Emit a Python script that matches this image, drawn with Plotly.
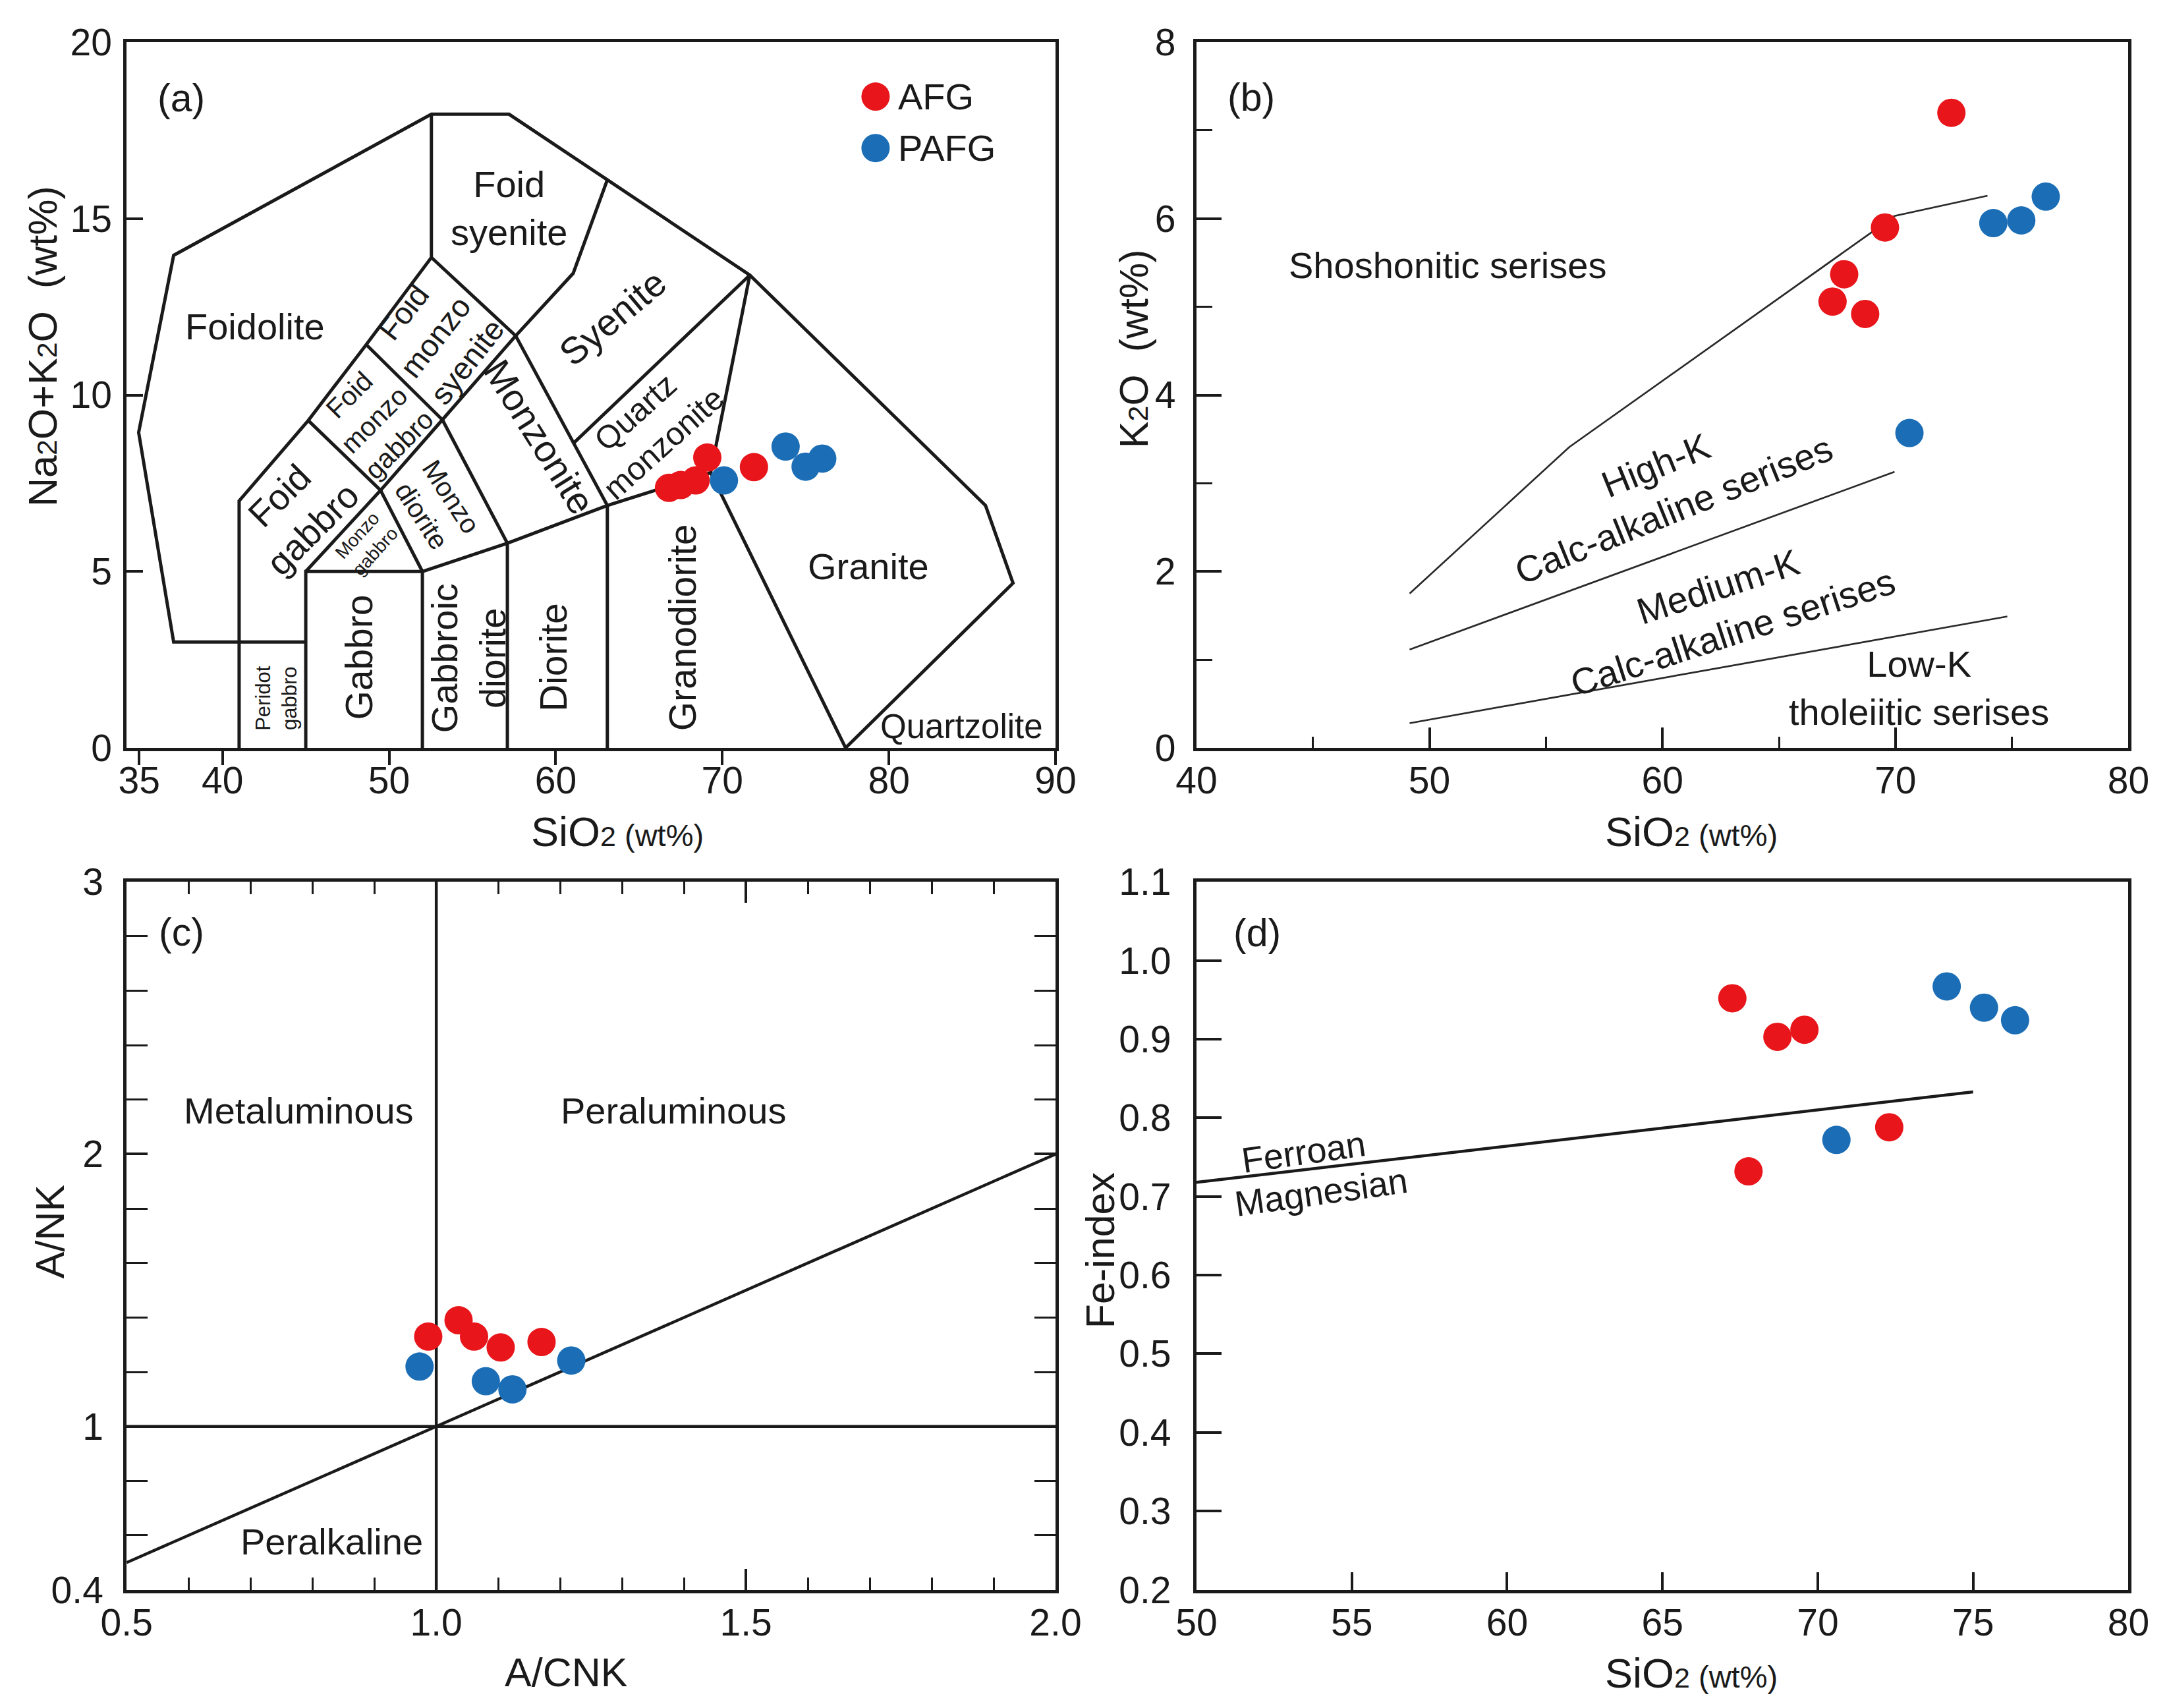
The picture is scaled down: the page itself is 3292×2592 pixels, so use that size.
import plotly.graph_objects as go

W, H = 3292, 2592
FONT = "Liberation Sans, Arial, Helvetica, sans-serif"
INK = "#1a1a1a"
RED = "#E8151B"
BLUE = "#1B6EB6"

GROUPS = ["AFG", "PAFG"]

# ---------------- (a) TAS diagram (SiO2 vs Na2O+K2O) ----------------
A_AFG_SIO2 = [66.8, 67.5, 68.4, 69.1, 71.9]
A_AFG_ALK = [7.37, 7.45, 7.58, 8.23, 7.96]
A_PAFG_SIO2 = [70.1, 73.8, 75.0, 76.0]
A_PAFG_ALK = [7.58, 8.54, 7.97, 8.20]

# Middlemost (1994) plutonic TAS field boundaries (SiO2, Na2O+K2O)
TAS_LINES = [
    [(45, 3), (41, 3), (37.07, 3), (34.97, 8.94), (37.07, 13.96), (52.54, 17.96), (57.2, 17.96),
     (63.1, 16.1), (71.65, 13.4), (85.8, 6.87), (87.45, 4.67), (77.4, 0)],
    [(41, 0), (41, 7), (45.15, 9.28), (48.63, 11.43), (52.54, 13.9), (52.54, 17.96)],
    [(45, 0), (45, 5), (52, 5), (52, 0)],
    [(45, 5), (49.49, 7.3), (52, 5)],
    [(45.15, 9.28), (49.49, 7.3), (53.2, 9.3), (48.63, 11.43)],
    [(53.2, 9.3), (57.1, 5.8)],
    [(52, 5), (57.1, 5.8), (63.1, 6.87), (69.3, 7.8), (77.4, 0)],
    [(57.1, 0), (57.1, 5.8)],
    [(63.1, 0), (63.1, 6.87)],
    [(52.54, 13.9), (57.6, 11.68), (53.2, 9.3)],
    [(57.6, 11.68), (61.05, 13.45), (63.1, 16.1)],
    [(57.6, 11.68), (63.1, 6.87)],
    [(61.1, 8.65), (71.65, 13.4), (69.3, 7.8)],
]

# ---------------- (b) SiO2 vs K2O ----------------
B_AFG_SIO2 = [72.4, 69.55, 67.8, 67.3, 68.7]
B_AFG_K2O = [7.20, 5.90, 5.37, 5.06, 4.92]
B_PAFG_SIO2 = [74.2, 75.4, 76.45, 70.6]
B_PAFG_K2O = [5.95, 5.98, 6.25, 3.57]

K2O_LINES = [
    [(49.15, 1.75), (56.0, 3.41), (69.96, 6.03), (73.95, 6.26)],
    [(49.15, 1.115), (69.96, 3.13)],
    [(49.15, 0.28), (74.8, 1.49)],
]

# ---------------- (c) A/CNK vs A/NK ----------------
C_AFG_ACNK = [0.987, 1.036, 1.061, 1.104, 1.170]
C_AFG_ANK = [1.33, 1.39, 1.33, 1.29, 1.31]
C_PAFG_ACNK = [0.973, 1.080, 1.123, 1.218]
C_PAFG_ANK = [1.22, 1.166, 1.136, 1.242]

ASI_LINES = [
    [(0.5, 0.5), (2.0, 2.0)],
    [(0.5, 1.0), (2.0, 1.0)],
    [(1.0, 0.4), (1.0, 3.0)],
]

# ---------------- (d) SiO2 vs Fe-index ----------------
D_AFG_SIO2 = [67.25, 68.7, 69.57, 67.77, 72.3]
D_AFG_FE = [0.952, 0.903, 0.912, 0.732, 0.788]
D_PAFG_SIO2 = [74.15, 75.35, 76.35, 70.6]
D_PAFG_FE = [0.967, 0.940, 0.924, 0.772]

FE_LINES = [[(50, 0.718), (75, 0.833)]]

K = 1.017  # slight size compensation

fig = go.Figure()


def add_lines(lines, xa, ya, width, color):
    xs, ys = [], []
    for line in lines:
        for x, y in line:
            xs.append(x)
            ys.append(y)
        xs.append(None)
        ys.append(None)
    fig.add_trace(go.Scatter(x=xs, y=ys, mode="lines", xaxis=xa, yaxis=ya,
                             line=dict(color=color, width=width),
                             hoverinfo="skip", showlegend=False))


def add_points(xs, ys, color, name, xa, ya):
    fig.add_trace(go.Scatter(x=xs, y=ys, mode="markers", name=name, xaxis=xa, yaxis=ya,
                             marker=dict(color=color, size=43, line=dict(width=0)),
                             showlegend=False))


add_lines(TAS_LINES, "x", "y", 5, INK)
add_points(A_AFG_SIO2, A_AFG_ALK, RED, GROUPS[0], "x", "y")
add_points(A_PAFG_SIO2, A_PAFG_ALK, BLUE, GROUPS[1], "x", "y")
# legend keys (panel a, top-right)
fig.add_trace(go.Scatter(x=[79.2, 79.2], y=[18.46, 17.0], mode="markers", xaxis="x", yaxis="y",
                         marker=dict(color=[RED, BLUE], size=43), hoverinfo="skip", showlegend=False))

add_lines(K2O_LINES, "x2", "y2", 2.7, "#2a2a2a")
add_points(B_AFG_SIO2, B_AFG_K2O, RED, GROUPS[0], "x2", "y2")
add_points(B_PAFG_SIO2, B_PAFG_K2O, BLUE, GROUPS[1], "x2", "y2")

add_lines(ASI_LINES, "x3", "y3", 4.5, INK)
add_points(C_AFG_ACNK, C_AFG_ANK, RED, GROUPS[0], "x3", "y3")
add_points(C_PAFG_ACNK, C_PAFG_ANK, BLUE, GROUPS[1], "x3", "y3")

add_lines(FE_LINES, "x4", "y4", 4.5, INK)
add_points(D_AFG_SIO2, D_AFG_FE, RED, GROUPS[0], "x4", "y4")
add_points(D_PAFG_SIO2, D_PAFG_FE, BLUE, GROUPS[1], "x4", "y4")

TICKFONT = dict(family=FONT, size=57, color=INK)
common = dict(showgrid=False, zeroline=False, showline=True, linecolor=INK, linewidth=5,
              mirror=True, tickcolor=INK, tickwidth=4, tickfont=TICKFONT)

DOM_X_LEFT = [0.0474, 0.4863]
DOM_X_RIGHT = [0.5529, 0.9933]
DOM_Y_TOP = [0.5637, 0.9873]
DOM_Y_BOT = [0.0583, 0.4833]

fig.update_layout(
    width=W, height=H,
    margin=dict(l=0, r=0, t=0, b=0, pad=0),
    paper_bgcolor="white", plot_bgcolor="white",
    showlegend=False,
    font=dict(family=FONT, color=INK),
    xaxis=dict(common, domain=DOM_X_LEFT, range=[34.25, 90], anchor="y",
               tickmode="array", tickvals=[35, 40, 50, 60, 70, 80, 90],
               ticks="outside", ticklen=21, ticklabelstandoff=-25),
    yaxis=dict(common, domain=DOM_Y_TOP, range=[0, 20], anchor="x",
               tickmode="array", tickvals=[0, 5, 10, 15, 20],
               ticks="inside", ticklen=25, ticklabelstandoff=6),
    xaxis2=dict(common, domain=DOM_X_RIGHT, range=[40, 80], anchor="y2",
                tickmode="array", tickvals=[40, 50, 60, 70, 80],
                ticks="inside", ticklen=31, ticklabelstandoff=-4,
                minor=dict(tickmode="array", tickvals=[45, 55, 65, 75], ticks="inside",
                           ticklen=17, tickwidth=3, tickcolor=INK)),
    yaxis2=dict(common, domain=DOM_Y_TOP, range=[0, 8], anchor="x2",
                tickmode="array", tickvals=[0, 2, 4, 6, 8],
                ticks="inside", ticklen=38, ticklabelstandoff=15,
                minor=dict(tickmode="array", tickvals=[1, 3, 5, 7], ticks="inside",
                           ticklen=24, tickwidth=3, tickcolor=INK)),
    xaxis3=dict(common, domain=DOM_X_LEFT, range=[0.5, 2.0], anchor="y3", mirror="ticks",
                tickmode="array", tickvals=[0.5, 1.0, 1.5, 2.0],
                ticktext=["0.5", "1.0", "1.5", "2.0"],
                ticks="inside", ticklen=32, ticklabelstandoff=-4,
                minor=dict(tickmode="array",
                           tickvals=[0.6, 0.7, 0.8, 0.9, 1.1, 1.2, 1.3, 1.4, 1.6, 1.7, 1.8, 1.9],
                           ticks="inside", ticklen=19, tickwidth=3, tickcolor=INK)),
    yaxis3=dict(common, domain=DOM_Y_BOT, range=[0.4, 3.0], anchor="x3", mirror="ticks",
                tickmode="array", tickvals=[0.4, 1, 2, 3], ticktext=["0.4", "1", "2", "3"],
                ticks="inside", ticklen=32, ticklabelstandoff=19,
                minor=dict(tickmode="array",
                           tickvals=[0.6, 0.8, 1.2, 1.4, 1.6, 1.8, 2.2, 2.4, 2.6, 2.8],
                           ticks="inside", ticklen=32, tickwidth=3, tickcolor=INK)),
    xaxis4=dict(common, domain=DOM_X_RIGHT, range=[50, 80], anchor="y4",
                tickmode="array", tickvals=[50, 55, 60, 65, 70, 75, 80],
                ticks="inside", ticklen=27, ticklabelstandoff=-4),
    yaxis4=dict(common, domain=DOM_Y_BOT, range=[0.2, 1.1], anchor="x4",
                tickmode="array", tickvals=[0.2, 0.3, 0.4, 0.5, 0.6, 0.7, 0.8, 0.9, 1.0, 1.1],
                ticktext=["0.2", "0.3", "0.4", "0.5", "0.6", "0.7", "0.8", "0.9", "1.0", "1.1"],
                ticks="inside", ticklen=38, ticklabelstandoff=22),
)

ann = []


def label(text, x, y, xa, ya, size=55, angle=0, xanchor="center", yanchor="middle"):
    ann.append(dict(text=text, x=x, y=y, xref=xa, yref=ya, showarrow=False,
                    textangle=angle, xanchor=xanchor, yanchor=yanchor,
                    font=dict(family=FONT, size=round(size * K), color=INK)))


# panel letters
label("(a)", 0.032, 0.921, "x domain", "y domain", size=58, xanchor="left")
label("(b)", 0.032, 0.922, "x2 domain", "y2 domain", size=58, xanchor="left")
label("(c)", 0.033, 0.929, "x3 domain", "y3 domain", size=58, xanchor="left")
label("(d)", 0.0385, 0.928, "x4 domain", "y4 domain", size=58, xanchor="left")

# axis titles
SUB = "<span style='font-size:43px'>2</span>"
SMALL = "<span style='font-size:47px'> (wt%)</span>"
label("SiO" + SUB + SMALL, 0.528, -0.1185, "x domain", "y domain", size=62)
label("Na" + SUB + "O+K" + SUB + "O  (wt%)", -0.0907, 0.569, "x domain", "y domain", size=60, angle=-90)
label("SiO" + SUB + SMALL, 0.531, -0.1187, "x2 domain", "y2 domain", size=62)
label("K" + SUB + "O  (wt%)", -0.0675, 0.566, "x2 domain", "y2 domain", size=60, angle=-90)
label("A/CNK", 0.473, -0.117, "x3 domain", "y3 domain", size=60)
label("A/NK", -0.0823, 0.506, "x3 domain", "y3 domain", size=60, angle=-90)
label("SiO" + SUB + SMALL, 0.531, -0.1174, "x4 domain", "y4 domain", size=62)
label("Fe-index", -0.1029, 0.479, "x4 domain", "y4 domain", size=60, angle=-90)

# legend texts
label("AFG", 80.45, 18.46, "x", "y", size=55, xanchor="left")
label("PAFG", 80.45, 17.0, "x", "y", size=55, xanchor="left")

# TAS field names
label("Foid<br>syenite", 57.21, 15.29, "x", "y")
label("Foidolite", 41.94, 11.94, "x", "y")
label("Foid<br>monzo<br>syenite", 52.75, 11.65, "x", "y", size=46, angle=-52)
label("Foid<br>monzo<br>gabbro", 49.1, 9.3, "x", "y", size=40, angle=-45)
label("Foid<br>gabbro", 44.41, 6.67, "x", "y", size=54, angle=-45)
label("Monzo<br>gabbro", 48.62, 5.8, "x", "y", size=28, angle=-48)
label("Monzo<br>diorite", 52.85, 6.85, "x", "y", size=40, angle=57)
label("Monzonite", 59.02, 8.81, "x", "y", size=56, angle=58)
label("Syenite", 63.42, 12.19, "x", "y", size=56, angle=-40)
label("Quartz<br>monzonite", 65.64, 9.07, "x", "y", size=48, angle=-42)
label("Gabbro", 48.21, 2.57, "x", "y", size=56, angle=-90)
label("Peridot<br>gabbro", 43.23, 1.41, "x", "y", size=30, angle=-90)
label("Gabbroic<br>diorite", 54.78, 2.54, "x", "y", size=55, angle=-90)
label("Diorite", 59.89, 2.57, "x", "y", size=56, angle=-90)
label("Granodiorite", 67.65, 3.41, "x", "y", size=56, angle=-90)
label("Granite", 78.78, 5.15, "x", "y", size=55)
label("Quartzolite", 84.35, 0.61, "x", "y", size=50)

# K2O series names
label("Shoshonitic serises", 50.77, 5.47, "x2", "y2", size=55)
label("High-K<br>Calc-alkaline serises", 60.1, 2.95, "x2", "y2", size=55, angle=-22)
label("Medium-K<br>Calc-alkaline serises", 62.7, 1.57, "x2", "y2", size=55, angle=-18)
label("Low-K<br>tholeiitic serises", 71.0, 0.68, "x2", "y2", size=55)

# ASI fields
label("Metaluminous", 0.778, 2.16, "x3", "y3", size=55)
label("Peraluminous", 1.383, 2.16, "x3", "y3", size=55)
label("Peralkaline", 0.831, 0.576, "x3", "y3", size=55)

# Fe-index fields
label("Ferroan", 53.45, 0.757, "x4", "y4", size=53, angle=-8)
label("Magnesian", 54.0, 0.706, "x4", "y4", size=53, angle=-8)

fig.update_layout(annotations=ann)

fig.write_html(
    "out.html",
    config={"displayModeBar": False},
    post_script="document.documentElement.style.margin='0';document.body.style.margin='0';"
                "document.body.style.padding='0';document.body.style.overflow='hidden';",
)
